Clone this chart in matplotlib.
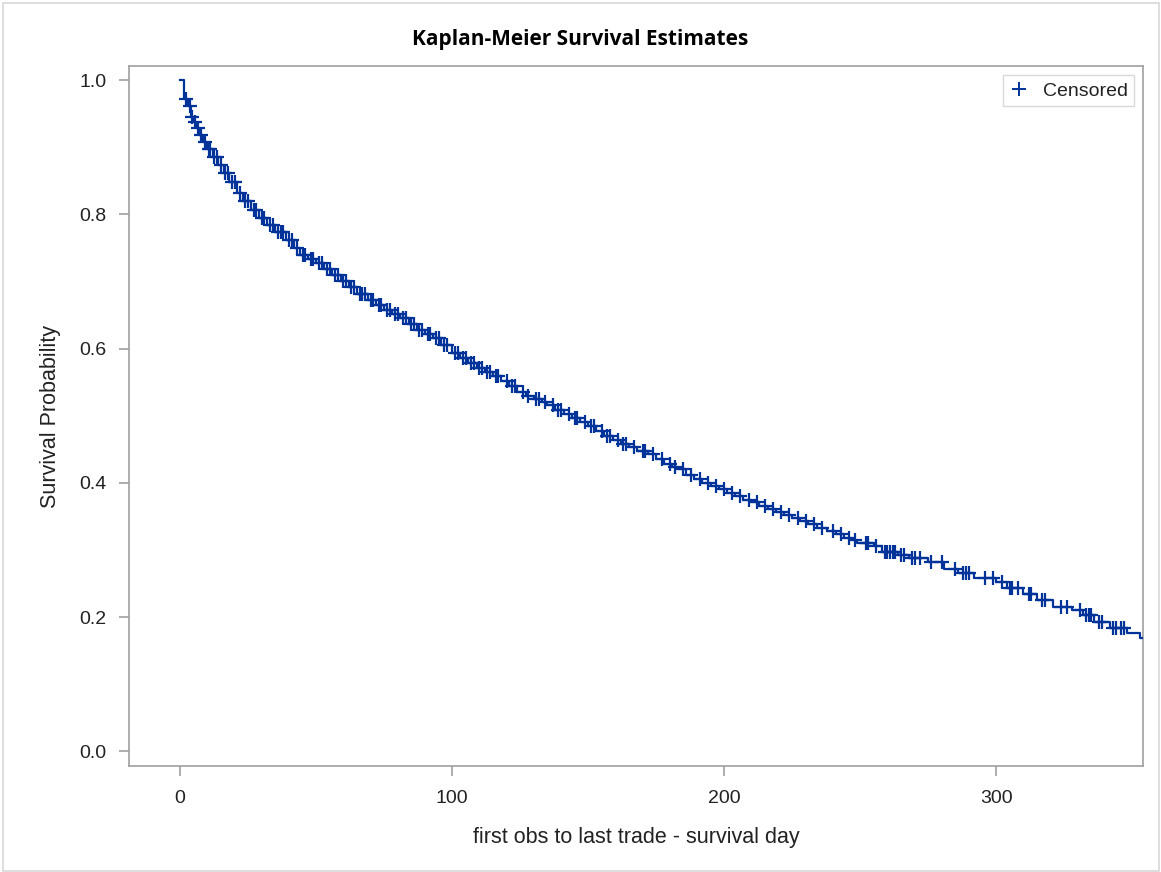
import numpy as np
import matplotlib
matplotlib.use("Agg")
import matplotlib.pyplot as plt
from matplotlib.lines import Line2D
from matplotlib.patches import Rectangle

# Kaplan-Meier step estimates (time, survival)
event_times = [0, 1.5, 3, 4, 5, 6, 7, 8.5, 10, 12, 14, 16, 18, 21, 23, 26, 29, 32,
               35, 39, 42, 44, 47, 50, 53, 56, 59, 62, 65, 69, 72, 75, 78, 81, 84,
               87, 90, 93, 96, 100, 103, 106, 109, 112, 115, 118, 121, 124, 127,
               130, 133, 135, 138, 141, 144, 147, 150, 153, 156, 159, 162, 165,
               168, 172, 175, 178, 181, 183, 186, 189, 192, 195, 198, 201, 204,
               207, 210, 213, 216, 219, 222, 225, 228, 231, 234, 238, 241, 244,
               247, 249, 255, 258, 264, 268, 275, 281, 286, 292, 300, 304, 310,
               315, 321, 328, 332, 336, 342, 348, 353]
survival = [1.0, 0.972, 0.962, 0.945, 0.937, 0.928, 0.918, 0.908, 0.897, 0.885,
            0.873, 0.861, 0.848, 0.832, 0.820, 0.806, 0.795, 0.784, 0.774, 0.762,
            0.750, 0.740, 0.734, 0.727, 0.718, 0.709, 0.700, 0.692, 0.682, 0.672,
            0.665, 0.658, 0.652, 0.645, 0.636, 0.628, 0.621, 0.615, 0.605, 0.593,
            0.586, 0.578, 0.571, 0.565, 0.559, 0.552, 0.544, 0.536, 0.530, 0.525,
            0.520, 0.516, 0.509, 0.503, 0.497, 0.490, 0.484, 0.477, 0.470, 0.463,
            0.458, 0.453, 0.448, 0.443, 0.436, 0.428, 0.424, 0.420, 0.412, 0.405,
            0.400, 0.395, 0.390, 0.385, 0.380, 0.375, 0.371, 0.366, 0.361, 0.357,
            0.352, 0.348, 0.343, 0.338, 0.333, 0.328, 0.323, 0.318, 0.314, 0.311,
            0.306, 0.297, 0.292, 0.288, 0.282, 0.272, 0.265, 0.258, 0.252, 0.243,
            0.235, 0.226, 0.215, 0.211, 0.203, 0.192, 0.183, 0.176, 0.168]
censored_times = [2, 3.5, 4.5, 5.5, 6.5, 7.5, 9, 10.5, 11, 12.5, 13.5, 15, 16.5,
                  17.5, 19, 20, 22, 24, 25, 27, 28, 30, 31, 33, 34, 36, 37, 38,
                  40, 41, 43, 45, 46, 48, 49, 51, 52, 54, 55, 57, 58, 60, 61, 63,
                  64, 66, 67, 68, 70, 71, 73, 74, 76, 77, 79, 80, 82, 83, 85, 86,
                  88, 89, 91, 92, 94, 95, 97, 98, 101, 102, 104, 105, 107, 108,
                  110, 111, 113, 114, 116, 117, 120, 122, 123, 126, 128, 131, 132,
                  134, 137, 139, 140, 143, 145, 146, 149, 151, 152, 155, 157, 158,
                  161, 163, 164, 167, 170, 171, 174, 177, 180, 182, 185, 188, 191,
                  194, 197, 200, 203, 206, 209, 212, 215, 218, 221, 224, 227, 230,
                  233, 236, 240, 243, 246, 248, 252, 253, 256, 259, 260, 261, 262,
                  263, 265, 266, 269, 270, 272, 276, 280, 285, 288, 289, 290, 296,
                  299, 302, 305, 306, 308, 312, 313, 317, 318, 324, 326, 331, 333,
                  334, 335, 338, 339, 343, 344, 346, 347]

x_ticks = [0, 100, 200, 300]
y_ticks = [0.0, 0.2, 0.4, 0.6, 0.8, 1.0]

W, H = 1161, 872
fig = plt.figure(figsize=(W / 100, H / 100), dpi=100)
ax = fig.add_axes([129 / W, 1 - 766 / H, (1143 - 129) / W, (766 - 66) / H])

blue = "#003399"
frame = "#a0a0a0"
txt = "#222222"

t = np.array(event_times)
s = np.array(survival)
t_plot = np.append(t, 360)
s_plot = np.append(s, s[-1])
ax.step(t_plot, s_plot, where="post", color=blue, lw=1.6, zorder=3)

ct = np.array(censored_times)
idx = np.searchsorted(t, ct, side="right") - 1
cs = s[idx]
ax.plot(ct, cs, linestyle="none", marker="+", markersize=10.5, markeredgewidth=1.6,
        color=blue, zorder=4)

ax.set_xlim(-18.8, 354)
ax.set_ylim(-0.022, 1.021)
ax.set_xticks(x_ticks)
ax.set_xticklabels([str(v) for v in x_ticks])
ax.set_yticks(y_ticks)
ax.set_yticklabels([f"{v:.1f}" for v in y_ticks])

for sp in ax.spines.values():
    sp.set_color(frame)
    sp.set_linewidth(1.2)
ax.tick_params(axis="both", direction="out", length=7, width=1.2, color=frame,
               labelcolor=txt, labelsize=14)
ax.tick_params(axis="y", pad=9)
ax.tick_params(axis="x", pad=10)
for lab in ax.get_xticklabels() + ax.get_yticklabels():
    lab.set_family("Liberation Sans")

ax.set_xlabel("first obs to last trade - survival day", fontsize=15.5, color=txt,
              family="Liberation Sans", labelpad=15)
ax.set_ylabel("Survival Probability", fontsize=15.5, color=txt,
              family="Liberation Sans", labelpad=13)

fig.text(0.5, 1 - 39 / H, "Kaplan-Meier Survival Estimates", ha="center",
         va="center", fontsize=15, fontweight="bold", family="Open Sans")

handle = Line2D([], [], linestyle="none", marker="+", markersize=10.5,
                markeredgewidth=1.4, color=blue)
leg = ax.legend([handle], ["Censored"], loc="upper right", frameon=True,
                fancybox=False, borderpad=0.35, handletextpad=0.7,
                handlelength=1.0, prop={"family": "Liberation Sans", "size": 14},
                bbox_to_anchor=(0.9915, 0.987), borderaxespad=0.0)
leg.get_frame().set_edgecolor("#d0d0d0")
leg.get_frame().set_linewidth(1.0)
for tx in leg.get_texts():
    tx.set_color(txt)

fig.patches.append(Rectangle((3 / W, 1 / H), (W - 5) / W, (H - 4) / H,
                             transform=fig.transFigure, fill=False,
                             edgecolor="#d8d8d8", linewidth=1.2))

fig.savefig("out.png", dpi=100)
